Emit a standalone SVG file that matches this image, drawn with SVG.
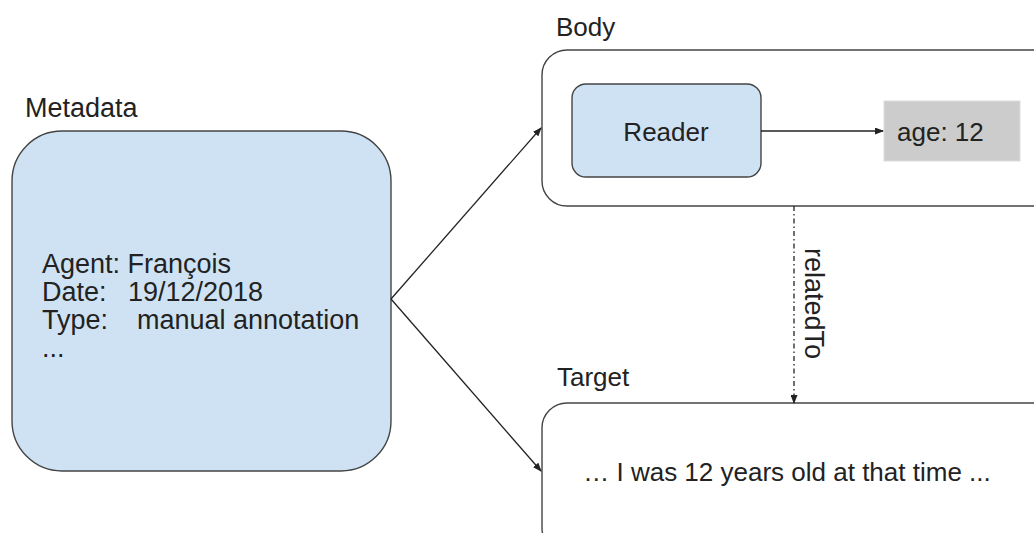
<svg xmlns="http://www.w3.org/2000/svg" width="1034" height="533" viewBox="0 0 1034 533">
<style>
text{font-family:"Liberation Sans",Arial,sans-serif;font-size:26px;fill:#222}
.lg{font-size:27px}
.box{stroke:#444;stroke-width:1.4}
.blue{fill:#cfe2f3}
.white{fill:#fff}
.edge{stroke:#222;stroke-width:1.3;fill:none}
</style>
<defs>
<marker id="ah" markerWidth="9" markerHeight="7" refX="8" refY="3.5" orient="auto" markerUnits="userSpaceOnUse">
<path d="M0,0 L9,3.5 L0,7 Z" fill="#222"/>
</marker>
</defs>
<rect width="1034" height="533" fill="#fff"/>
<g id="metadata">
<text class="lg" x="25" y="117">Metadata</text>
<rect class="box blue" x="12" y="131" width="379" height="340" rx="50"/>
<text class="lg" x="42" y="273">Agent: François</text>
<text class="lg" x="42" y="301">Date:<tspan x="128">19/12/2018</tspan></text>
<text class="lg" x="42" y="329">Type:<tspan x="137">manual annotation</tspan></text>
<text class="lg" x="42" y="357">...</text>
</g>
<g id="body">
<text x="556" y="36">Body</text>
<rect class="box white" x="542" y="50" width="520" height="156" rx="25"/>
</g>
<g id="reader">
<rect class="box blue" x="572" y="84" width="189" height="93" rx="14"/>
<text x="666" y="141" text-anchor="middle">Reader</text>
</g>
<g id="age">
<rect x="884" y="101" width="136" height="60" fill="#cccccc" stroke="#ddd" stroke-width="1"/>
<text x="897" y="141">age: 12</text>
</g>
<g id="target">
<text x="557" y="386">Target</text>
<rect class="box white" x="542" y="403" width="520" height="150" rx="25"/>
<text x="787" y="481" text-anchor="middle">… I was 12 years old at that time ...</text>
</g>
<g id="connectors">
<line class="edge" x1="391" y1="299" x2="541" y2="128" marker-end="url(#ah)"/>
<line class="edge" x1="391" y1="299" x2="541" y2="471" marker-end="url(#ah)"/>
<line class="edge" x1="761" y1="131" x2="883" y2="131" marker-end="url(#ah)"/>
<line class="edge" x1="794" y1="206" x2="794" y2="403" stroke-dasharray="5 3 1.5 3" marker-end="url(#ah)"/>
<text class="lg" x="805" y="248" transform="rotate(90 805 248)">relatedTo</text>
</g>
</svg>
